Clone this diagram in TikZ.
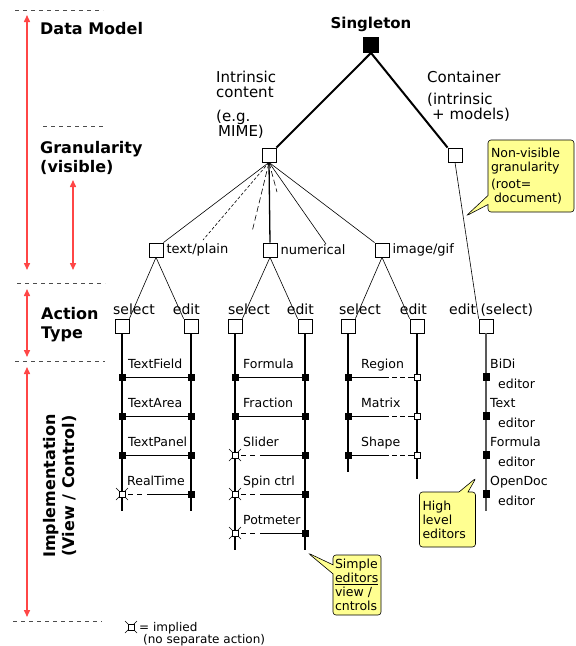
\documentclass[tikz,border=0pt]{standalone}
\usepackage{fontspec}
\setmainfont{DejaVu Sans}
\usetikzlibrary{arrows.meta,shapes.callouts}
\definecolor{bandred}{RGB}{255,70,70}
\definecolor{noteyellow}{RGB}{255,255,145}
\tikzset{
  box/.style={draw,fill=white,minimum size=14pt,inner sep=0pt,line width=0.8pt},
  blk/.style={draw,fill=black,minimum size=6pt,inner sep=0pt},
  opn/.style={draw,fill=white,minimum size=6pt,inner sep=0pt,line width=0.7pt},
  rail/.style={line width=1.1pt},
  rung/.style={line width=0.9pt},
  fan/.style={line width=0.6pt},
  halfdash/.style={rung,dash pattern=on 0pt off 3pt on 5pt off 4pt on 5pt off 5pt on 300pt},
  imgdash/.style={rung,dash pattern=on 6pt off 3pt on 5pt off 3pt on 5pt off 3pt on 300pt},
  sep/.style={line width=0.7pt,black!70,dash pattern=on 4pt off 4pt},
  band/.style={bandred,line width=1.5pt,{Triangle[width=6pt,length=7pt]}-{Triangle[width=6pt,length=7pt]}},
  head/.style={font=\fontsize{16}{19}\selectfont\bfseries,align=left,inner sep=0pt},
  big/.style={font=\fontsize{15}{15}\selectfont,align=left,inner sep=0pt},
  lvl/.style={font=\fontsize{13}{15}\selectfont,inner sep=3pt,anchor=west},
  act/.style={font=\fontsize{14}{16}\selectfont,inner sep=0pt},
  lbl/.style={font=\fontsize{12.5}{14}\selectfont,inner sep=0pt,anchor=base west},
  note/.style={rectangle callout,draw,fill=noteyellow,rounded corners=3pt,align=left,
    inner sep=3pt,line width=0.6pt,callout pointer width=9pt,font=\fontsize{12.5}{14}\selectfont}
}
\newcommand{\implied}[3]{%
  \draw[line width=0.6pt] (#2-6,#3-6) -- (#2+6,#3+6) (#2-6,#3+6) -- (#2+6,#3-6);
  \node[opn] (#1) at (#2,#3) {};}
\begin{document}
\begin{tikzpicture}[x=1pt,y=-1pt]
  \useasboundingbox (0,0) rectangle (576,646);
  \draw[sep] (15,10) -- (103,10);
  \draw[sep] (43,126) -- (105,126);
  \draw[sep] (17,283) -- (105,283);
  \draw[sep] (15,361) -- (105,361);
  \draw[sep] (13,621) -- (102,621);
  \draw[band] (27,15) -- (27,270);
  \draw[band] (73,180) -- (73,270);
  \draw[band] (27,289) -- (27,357);
  \draw[band] (27,367) -- (27,617);
  \node[head,anchor=north west] (dm) at (40,22) {Data Model};
  \node[head,anchor=north west] (gran) at (40,141) {Granularity\\(visible)};
  \node[head,anchor=north west] (atype) at (41,307) {Action\\Type};
  \node[head,rotate=90,align=center] (implem) at (60,486) {Implementation\\(View / Control)};

  \node[font=\fontsize{15}{18}\selectfont\bfseries,anchor=base] (sgl) at (371,28) {Singleton};
  \node[box,fill=black,minimum size=15pt] (root) at (371,45) {};
  \node[box] (intr) at (269,155) {};
  \node[box] (cont) at (455,155) {};
  \draw[line width=2pt] (root.south) -- (intr.north east);
  \draw[line width=2pt] (root.south) -- (cont.north west);
  \node[big,anchor=north west] (intrT) at (216,71) {Intrinsic\\content\\[9pt](e.g.\\\hspace{2pt}MIME)};
  \node[big,anchor=north west] (contT) at (427,71) {Container\\[7pt](intrinsic\\\hspace{5pt}+ models)};

  \node[box] (tp) at (156,250) {};
  \node[box] (num) at (270,250) {};
  \node[box] (img) at (382,250) {};
  \node[lvl] (tpT) at (tp.east) {text/plain};
  \node[lvl] (numT) at (num.east) {numerical};
  \node[lvl] (imgT) at (img.east) {image/gif};
  \coordinate (f1) at (203,240);
  \coordinate (f2) at (252,232);
  \coordinate (f3) at (277,192);
  \coordinate (f4) at (326,244);
  \draw[fan] (intr.south) -- (tp.north east);
  \draw[fan,dash pattern=on 3pt off 2pt] (intr.south) -- (f1);
  \draw[fan,dash pattern=on 6pt off 3pt] (intr.south) -- (f2);
  \draw[line width=1.3pt] (intr.south) -- (num.north);
  \draw[fan,dash pattern=on 6pt off 3pt] (intr.south) -- (f3);
  \draw[fan] (intr.south) -- (f4);
  \draw[fan] (intr.south) -- (img.north west);

  \node[box] (tps) at (122,326) {};
  \node[box] (tpe) at (191,326) {};
  \node[box] (nums) at (235,326) {};
  \node[box] (nume) at (305,326) {};
  \node[box] (imgs) at (348,326) {};
  \node[box] (imge) at (417,326) {};
  \node[box] (conte) at (486,326) {};
  \draw[fan] (tp.south) -- (tps.north east);
  \draw[fan] (tp.south) -- (tpe.north west);
  \draw[fan] (num.south) -- (nums.north east);
  \draw[fan] (num.south) -- (nume.north west);
  \draw[fan] (img.south) -- (imgs.north east);
  \draw[fan] (img.south) -- (imge.north west);
  \draw[fan] (cont.south) -- (conte.north west);
  \node[act,anchor=base west] (tpsT) at (113,314) {select};
  \node[act,anchor=base east] (tpeT) at (200,314) {edit};
  \node[act,anchor=base west] (numsT) at (228,314) {select};
  \node[act,anchor=base east] (numeT) at (314,314) {edit};
  \node[act,anchor=base west] (imgsT) at (339,314) {select};
  \node[act,anchor=base east] (imgeT) at (427,314) {edit};
  \node[act,anchor=base west] (conteT) at (449,314) {edit (select)};

  % text/plain
  \coordinate (tpsB) at (122,511);
  \coordinate (tpeB) at (191,511);
  \draw[rail] (tps) -- (tpsB);
  \draw[rail] (tpe) -- (tpeB);
  \foreach \r/\t in {1/TextField,2/TextArea,3/TextPanel}{
    \pgfmathsetmacro{\yy}{338+39*\r}
    \node[blk] (tpl\r) at (122,\yy) {};
    \node[blk] (tpr\r) at (191,\yy) {};
    \draw[rung] (tpl\r) -- (tpr\r);
    \node[lbl] (tpL\r) at (128,\yy-9) {\t};
  }
  \implied{tpl4}{122}{494}
  \node[blk] (tpr4) at (191,494) {};
  \draw[halfdash] (tpl4) -- (tpr4);
  \node[lbl] (tpL4) at (127,485) {RealTime};

  % numerical
  \coordinate (numsB) at (235,550);
  \coordinate (numeB) at (305,550);
  \draw[rail] (nums) -- (numsB);
  \draw[rail] (nume) -- (numeB);
  \foreach \r/\t in {1/Formula,2/Fraction}{
    \pgfmathsetmacro{\yy}{338+39*\r}
    \node[blk] (nml\r) at (235,\yy) {};
    \node[blk] (nmr\r) at (305,\yy) {};
    \draw[rung] (nml\r) -- (nmr\r);
    \node[lbl] (nmL\r) at (243,\yy-9) {\t};
  }
  \foreach \r/\t in {3/Slider,4/Spin ctrl,5/Potmeter}{
    \pgfmathsetmacro{\yy}{338+39*\r}
    \implied{nml\r}{235}{\yy}
    \node[blk] (nmr\r) at (305,\yy) {};
    \draw[halfdash] (nml\r) -- (nmr\r);
    \node[lbl] (nmL\r) at (243,\yy-9) {\t};
  }

  % image/gif
  \coordinate (imgsB) at (348,472);
  \coordinate (imgeB) at (417,479);
  \draw[rail] (imgs) -- (imgsB);
  \draw[rail] (imge) -- (imgeB);
  \foreach \r/\t in {1/Region,2/Matrix,3/Shape}{
    \pgfmathsetmacro{\yy}{338+39*\r}
    \node[blk] (iml\r) at (348,\yy) {};
    \node[opn] (imr\r) at (417,\yy) {};
    \draw[imgdash] (imr\r) -- (iml\r);
    \node[lbl] (imL\r) at (361,\yy-9) {\t};
  }

  % container
  \coordinate (conteB) at (486,511);
  \draw[line width=1.6pt,black!65] (conte) -- (conteB);
  \foreach \r/\t in {1/BiDi,2/Text,3/Formula,4/OpenDoc}{
    \pgfmathsetmacro{\yy}{338+39*\r}
    \node[blk,minimum height=7pt] (ct\r) at (486,\yy) {};
    \node[lbl] (ctA\r) at (490,\yy-9) {\t};
    \node[lbl] (ctB\r) at (498,\yy+11) {editor};
  }

  % notes
  \coordinate (tipA) at (466,216);
  \coordinate (tipB) at (476,478);
  \coordinate (tipC) at (308,553);
  \node[note,text width=80pt,minimum height=72pt,callout absolute pointer={(tipA)}] (noteA) at (531,176)
    {Non-visible\\granularity\\[3pt](root=\\\hspace{3pt}document)};
  \node[note,text width=50pt,minimum height=55pt,callout absolute pointer={(tipB)}] (noteB) at (447.5,519.5)
    {High\\level\\editors};
  \node[note,text width=44pt,minimum height=60pt,inner sep=2pt,callout absolute pointer={(tipC)}] (noteC) at (357,585)
    {Simple\\\underline{editors}\\view /\\cntrols};

  \implied{legend}{131}{627}
  \node[lbl,font=\fontsize{12}{14}\selectfont] (legA) at (139,631) {= implied};
  \node[lbl,font=\fontsize{12}{14}\selectfont] (legB) at (143,643) {(no separate action)};
\end{tikzpicture}
\end{document}
